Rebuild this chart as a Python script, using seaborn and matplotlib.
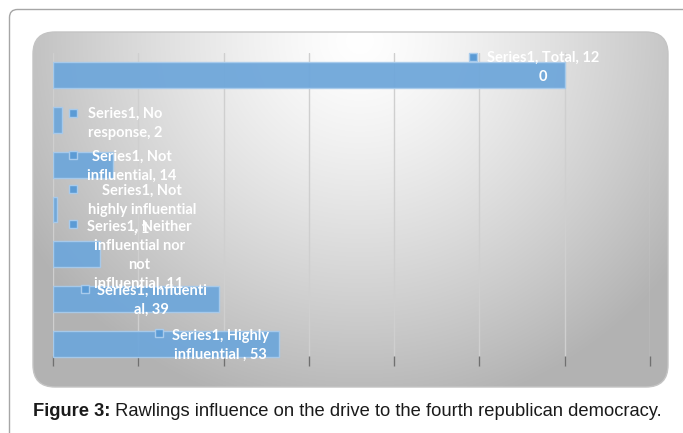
import numpy as np
import pandas as pd
import matplotlib
matplotlib.use("Agg")
import matplotlib.pyplot as plt
from matplotlib.patches import FancyBboxPatch
import seaborn as sns

# Survey responses (single series)
series_name = "Series1"
categories = [
    "Total",
    "No response",
    "Not influential",
    "Not highly influential",
    "Neither influential nor not influential",
    "Influential",
    "Highly influential ",
]
values = [120, 2, 14, 1, 11, 39, 53]

# Line lengths (characters) used to wrap each data label
wrap_lengths = [[18], [11], [12], [12, 18], [16, 15, 3], [18], [15]]
# Label anchors in data units: (x centre of text, y centre of text, marker x, marker y)
label_x = [114.9, 16.9, 18.5, 20.9, 20.2, 23.2, 39.2]
label_y = [-0.17, 1.08, 2.04, 3.01, 4.02, 5.02, 6.04]
marker_x = [98.5, 4.7, 4.7, 4.7, 4.7, 7.5, 24.9]
marker_y = [-0.41, 0.84, 1.78, 2.54, 3.32, 4.78, 5.76]

caption_bold = "Figure 3:"
caption_rest = " Rawlings influence on the drive to the fourth republican democracy."

BAR = "#6fa7da"
BAR_EDGE = "#a8cbec"


def wrap_by_lengths(text, lengths):
    lines = []
    rest = text
    for n in lengths:
        lines.append(rest[:n])
        rest = rest[n:].lstrip(" ")
    lines.append(rest)
    return "\n".join(lines)


sns.set_theme(style="white")
W, H = 683, 433
fig = plt.figure(figsize=(W / 100, H / 100), dpi=100)
fig.patch.set_facecolor("white")

# Background layer in pixel coordinates
bg = fig.add_axes([0, 0, 1, 1], zorder=0)
bg.set_xlim(0, W)
bg.set_ylim(H, 0)
bg.axis("off")

outer = FancyBboxPatch((9.5, 9.5), W + 40, H + 40,
                       boxstyle="round,pad=0,rounding_size=8",
                       facecolor="white", edgecolor="#a6a6a6", lw=1.0)
bg.add_patch(outer)

# Shaded chart panel with a soft radial highlight near the top
px0, px1, py0, py1 = 33, 668, 32, 387
xs = np.linspace(px0, px1, 400)
ys = np.linspace(py0, py1, 240)
X, Y = np.meshgrid(xs, ys)
d = np.sqrt(((X - 360) / 340) ** 2 + ((Y - 40) / 330) ** 2)
shade = 1 - 0.25 * np.clip(d, 0, 1.15) ** 1.3
img = np.dstack([shade, shade, shade])
im = bg.imshow(img, extent=(px0, px1, py1, py0), interpolation="bilinear", zorder=1)
panel = FancyBboxPatch((px0, py0), px1 - px0, py1 - py0,
                       boxstyle="round,pad=0,rounding_size=22",
                       facecolor="none", edgecolor="#c4c4c4", lw=1.0, zorder=2)
bg.add_patch(panel)
im.set_clip_path(panel)

# Bar chart
ax = fig.add_axes([53 / W, 1 - 366 / H, 597 / W, 313 / H], zorder=1)
ax.patch.set_alpha(0)
df = pd.DataFrame({"category": categories, "value": values})
ax.set_axisbelow(True)
ax.grid(axis="x", color="#cfcfcf", lw=1.0)
sns.barplot(data=df, x="value", y="category", orient="h", color=BAR,
            saturation=1, width=0.58, edgecolor=BAR_EDGE, linewidth=1.0,
            alpha=0.95, ax=ax)
ax.set_xlim(0, 140)
ax.set_ylim(6.5, -0.5)
ax.set_xticks(np.arange(0, 141, 20))
ax.set_xticklabels([])
ax.set_yticks([])
ax.set_xlabel("")
ax.set_ylabel("")
ax.tick_params(axis="x", direction="in", length=7, width=1.0, color="#707070",
               bottom=True)
for s in ax.spines.values():
    s.set_visible(False)

# Data labels
for cat, v, tx, ty, mx, my, wl in zip(categories, values, label_x, label_y,
                                       marker_x, marker_y, wrap_lengths):
    text = wrap_by_lengths(f"{series_name}, {cat}, {v}", wl)
    ax.text(tx, ty, text, ha="center", va="center", color="white",
            fontsize=10.5, fontweight="bold", family=["Lato", "DejaVu Sans"],
            linespacing=1.45, zorder=5)
    ax.plot([mx], [my], marker="s", ms=6, mfc="#5b9bd5", mec="#a8cbec",
            mew=1.0, zorder=5, clip_on=False)

# Caption
t1 = fig.text(33 / W, 1 - 412 / H, caption_bold, ha="left", va="center",
              fontsize=13.2, fontweight="bold", family="Liberation Sans",
              color="#1a1a1a")
fig.canvas.draw()
bb = t1.get_window_extent(renderer=fig.canvas.get_renderer())
fig.text(bb.x1 / W, 1 - 412 / H, caption_rest, ha="left", va="center",
         fontsize=13.2, family="Liberation Sans", color="#1a1a1a")

fig.savefig("out.png", dpi=100)
